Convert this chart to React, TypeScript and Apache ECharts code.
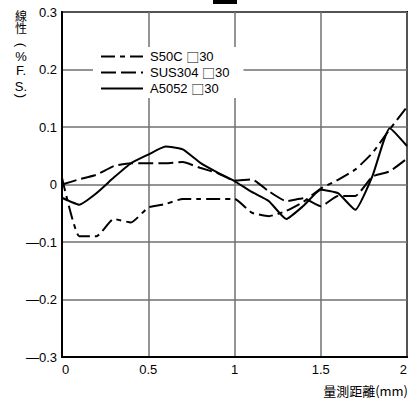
import React, { useEffect, useRef } from "react";
import * as echarts from "echarts";

const distances = [0, 0.1, 0.2, 0.3, 0.4, 0.5, 0.6, 0.7, 0.8, 0.9, 1.0, 1.1, 1.2, 1.3, 1.4, 1.5, 1.6, 1.7, 1.8, 1.9, 2.0];
const s50c = [0.012, -0.09, -0.09, -0.06, -0.066, -0.04, -0.034, -0.025, -0.025, -0.025, -0.025, -0.049, -0.055, -0.046, -0.03, -0.007, 0.008, 0.026, 0.055, 0.096, 0.135];
const sus304 = [0.0, 0.009, 0.017, 0.032, 0.037, 0.037, 0.037, 0.039, 0.029, 0.02, 0.007, 0.009, -0.012, -0.029, -0.024, -0.038, -0.02, -0.02, 0.014, 0.023, 0.045];
const a5052 = [-0.023, -0.035, -0.015, 0.012, 0.037, 0.052, 0.066, 0.061, 0.038, 0.021, 0.006, -0.013, -0.029, -0.06, -0.037, -0.009, -0.015, -0.044, 0.015, 0.098, 0.067];
const seriesNames = ["S50C \u25A130", "SUS304 \u25A130", "A5052 \u25A130"];
const yTitleCjk = "線\n性";
const yTitleChars = ["(", "%", "F.", "S.", ")"];
const yTitleYs = [45, 56.5, 70.5, 86, 96];
const xAxisName = "量測距離(mm)";

const FONT = "'Liberation Sans', Arial, 'Noto Sans CJK TC', sans-serif";
const CJK = "'Noto Sans CJK TC', sans-serif";

export default function App() {
  const ref = useRef<HTMLDivElement>(null);
  useEffect(() => {
    if (!ref.current) return;
    const chart = echarts.init(ref.current, undefined, { renderer: "svg" });
    const pairs = (arr: number[]) => distances.map((d, i) => [d, arr[i]]);
    const mk = (name: string, arr: number[], type: any) => ({
      name,
      type: "line",
      data: pairs(arr),
      symbol: "none",
      smooth: 0.15,
      lineStyle: { color: "#000", width: 2, type },
      itemStyle: { color: "#000" },
    });
    chart.setOption({
      animation: false,
      backgroundColor: "#fff",
      textStyle: { fontFamily: FONT },
      grid: {
        left: 62,
        right: 1,
        top: 12,
        bottom: 44,
        show: true,
        borderColor: "#000",
        borderWidth: 2,
      },
      legend: {
        orient: "vertical",
        left: 93,
        top: 47,
        padding: [3, 14, 3, 7],
        backgroundColor: "#fff",
        itemWidth: 42,
        itemHeight: 14,
        itemGap: 3,
        itemStyle: { opacity: 0 },
        formatter: (name: string) => name.replace("\u25A1", "{b|\u25A1}"),
        textStyle: {
          fontSize: 13,
          color: "#000",
          fontFamily: FONT,
          padding: [0, 0, 0, 2],
          rich: {
            b: { fontFamily: CJK, fontSize: 13, color: "#000" },
          },
        },
        data: seriesNames,
      },
      xAxis: {
        type: "value",
        min: 0,
        max: 2,
        interval: 0.5,
        axisLine: { show: true, onZero: false, lineStyle: { color: "#000", width: 2 } },
        axisTick: { show: false },
        splitLine: { show: true, lineStyle: { color: "#707070", width: 1.5 } },
        axisLabel: {
          color: "#000",
          fontSize: 13,
          margin: 6,
          fontFamily: FONT,
          alignMinLabel: "left",
          alignMaxLabel: "right",
          formatter: (v: number) => String(v),
        },
      },
      yAxis: {
        type: "value",
        min: -0.3,
        max: 0.3,
        interval: 0.1,
        axisLine: { show: true, onZero: false, lineStyle: { color: "#000", width: 2 } },
        axisTick: { show: false },
        splitLine: { show: true, lineStyle: { color: "#707070", width: 1.5 } },
        axisLabel: {
          color: "#000",
          fontSize: 13,
          margin: 5,
          fontFamily: FONT,
          formatter: (v: number) => {
            const r = Math.round(v * 10) / 10;
            if (r === 0) return "0";
            return r < 0 ? "—" + Math.abs(r).toFixed(1) : r.toFixed(1);
          },
        },
      },
      graphic: [
        {
          type: "text",
          x: 21,
          y: 21,
          style: {
            text: yTitleCjk,
            fill: "#000",
            font: `12px ${CJK}`,
            lineHeight: 12,
            align: "center",
            verticalAlign: "middle",
          },
        },
        ...yTitleChars.map((c, i) => {
          const isParen = c === "(" || c === ")";
          return {
            type: "text",
            x: 21,
            y: yTitleYs[i],
            rotation: isParen ? -Math.PI / 2 : 0,
            style: {
              text: c,
              fill: "#000",
              font: `13px ${FONT}`,
              lineHeight: 12,
              align: "center",
              verticalAlign: "middle",
            },
          };
        }),
        {
          type: "text",
          x: 408,
          y: 390,
          style: {
            text: xAxisName,
            fill: "#000",
            font: `13px ${CJK}`,
            align: "right",
            verticalAlign: "middle",
          },
        },
        {
          type: "rect",
          shape: { x: 213, y: -10, width: 24, height: 14 },
          style: { fill: "#000" },
        },
      ],
      series: [
        mk(seriesNames[0], s50c, [14, 5, 5, 5]),
        mk(seriesNames[1], sus304, [15, 5]),
        mk(seriesNames[2], a5052, "solid"),
      ],
    });
    return () => chart.dispose();
  }, []);
  return (
    <div
      ref={ref}
      style={{ position: "fixed", left: 0, top: 0, width: 410, height: 401 }}
    />
  );
}
